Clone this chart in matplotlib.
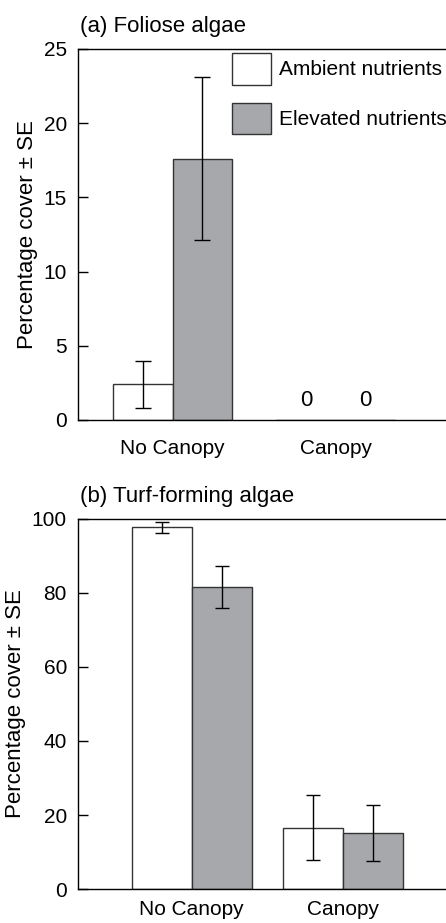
import matplotlib
matplotlib.use('Agg')
import matplotlib.pyplot as plt
import numpy as np

plt.rcParams['font.family'] = ['Liberation Sans', 'DejaVu Sans']

# Data
groups = ['No Canopy', 'Canopy']
series = ['Ambient nutrients', 'Elevated nutrients']

foliose_ambient = [2.4, 0.0]
foliose_ambient_se = [1.6, 0.0]
foliose_elevated = [17.6, 0.0]
foliose_elevated_se = [5.5, 0.0]

turf_ambient = [97.7, 16.6]
turf_ambient_se = [1.6, 8.8]
turf_elevated = [81.6, 15.1]
turf_elevated_se = [5.7, 7.5]

foliose_ticks = [0, 5, 10, 15, 20, 25]
turf_ticks = [0, 20, 40, 60, 80, 100]

grey = '#a7a8ab'
edge = '#333333'
fs = 15

fig = plt.figure(figsize=(4.46, 9.23), dpi=100)
ax1 = fig.add_axes([0.175, 0.545, 0.83, 0.402])
ax2 = fig.add_axes([0.175, 0.0368, 0.83, 0.401])


def draw(ax, amb, amb_se, elev, elev_se, width, xlim, ylim, yticks, title,
         cap, xpad):
    x = np.arange(len(groups))
    ax.bar(x - width / 2, amb, width, color='white', edgecolor=edge,
           linewidth=1.0, label=series[0], zorder=2)
    ax.bar(x + width / 2, elev, width, color=grey, edgecolor=edge,
           linewidth=1.0, label=series[1], zorder=2)
    for xs, v, e in [(x - width / 2, amb, amb_se), (x + width / 2, elev, elev_se)]:
        for xi, vi, ei in zip(xs, v, e):
            if ei > 0:
                ax.errorbar(xi, vi, yerr=ei, fmt='none', ecolor='black',
                            elinewidth=1.0, capsize=cap, capthick=1.0, zorder=3)
    ax.set_xlim(*xlim)
    ax.set_ylim(*ylim)
    ax.set_yticks(yticks)
    ax.set_xticks(x)
    ax.set_xticklabels(groups, fontsize=fs)
    ax.tick_params(axis='x', length=0, pad=xpad)
    ax.tick_params(axis='y', direction='in', length=7, width=1.0,
                   labelsize=fs, pad=8)
    ax.spines['right'].set_visible(False)
    for s in ['left', 'top', 'bottom']:
        ax.spines[s].set_linewidth(1.0)
    ax.set_ylabel('Percentage cover \u00b1 SE', fontsize=fs + 1, labelpad=4)
    ax.annotate(title, xy=(0, 1), xycoords='axes fraction',
                xytext=(1.5, 12), textcoords='offset points',
                fontsize=fs + 1, ha='left', va='baseline')


draw(ax1, foliose_ambient, foliose_ambient_se, foliose_elevated,
     foliose_elevated_se, 0.364, (-0.58, 1.69), (0, 25), foliose_ticks,
     '(a) Foliose algae', 5.8, 14)
draw(ax2, turf_ambient, turf_ambient_se, turf_elevated, turf_elevated_se,
     0.397, (-0.753, 1.70), (0, 100), turf_ticks, '(b) Turf-forming algae',
     4.7, 8)

# zero labels over the canopy bars
w = 0.364
for xi, v in [(1 - w / 2, foliose_ambient[1]), (1 + w / 2, foliose_elevated[1])]:
    ax1.text(xi, v + 0.6, '0', ha='center', va='bottom', fontsize=fs + 1)

ax1.legend(loc='upper right', bbox_to_anchor=(1.008, 1.0), frameon=False,
           fontsize=fs, handlelength=1.87, handleheight=1.95,
           labelspacing=0.88, handletextpad=0.4, borderaxespad=0.1,
           borderpad=0.1)

fig.savefig('out.png', dpi=100)
